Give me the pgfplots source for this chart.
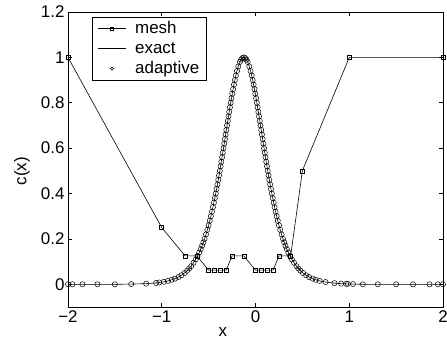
\documentclass[border=0pt]{standalone}
\usepackage{fontspec}
\setmainfont{Liberation Sans}
\usepackage{pgfplots}
\usepackage{pgfplotstable}
\pgfplotsset{compat=1.18}
\newcommand\fs{\fontsize{17}{20}\selectfont}
\pgfplotstableread{
x y
-2.0 0
-1.953 0
-1.846 0
-1.686 0
-1.5 0
-1.326 0.001
-1.166 0.003
-1.06 0.006
-1.0258 0.008
-0.977 0.011
-0.9339 0.015
-0.893 0.02
-0.8588 0.025
-0.822 0.032
-0.7898 0.04
-0.757 0.05
-0.7293 0.06
-0.707 0.07
-0.6864 0.08
-0.661 0.095
-0.6377 0.11
-0.6185 0.125
-0.6004 0.14
-0.5845 0.155
-0.5697 0.17
-0.556 0.185
-0.5436 0.2
-0.5282 0.22
-0.5137 0.24
-0.5004 0.26
-0.4877 0.28
-0.476 0.3
-0.4646 0.32
-0.4539 0.34
-0.4436 0.36
-0.4338 0.38
-0.4242 0.4
-0.415 0.42
-0.406 0.44
-0.3974 0.46
-0.3889 0.48
-0.3806 0.5
-0.3725 0.52
-0.3645 0.54
-0.3566 0.56
-0.3489 0.58
-0.3412 0.6
-0.3336 0.62
-0.326 0.64
-0.3185 0.66
-0.311 0.68
-0.3034 0.7
-0.2958 0.72
-0.2881 0.74
-0.2804 0.76
-0.2725 0.78
-0.2645 0.8
-0.2563 0.82
-0.2479 0.84
-0.2391 0.86
-0.2298 0.88
-0.22 0.9
-0.2093 0.92
-0.1975 0.94
-0.1838 0.96
-0.1663 0.98
-0.1541 0.99
-0.14 0.997
-0.125 1.0
-0.11 0.997
-0.0959 0.99
-0.0837 0.98
-0.0662 0.96
-0.0525 0.94
-0.0407 0.92
-0.03 0.9
-0.0202 0.88
-0.0109 0.86
-0.0021 0.84
0.0063 0.82
0.0145 0.8
0.0225 0.78
0.0304 0.76
0.0381 0.74
0.0458 0.72
0.0534 0.7
0.061 0.68
0.0685 0.66
0.076 0.64
0.0836 0.62
0.0912 0.6
0.0989 0.58
0.1066 0.56
0.1145 0.54
0.1225 0.52
0.1306 0.5
0.1389 0.48
0.1474 0.46
0.156 0.44
0.165 0.42
0.1742 0.4
0.1838 0.38
0.1936 0.36
0.2039 0.34
0.2146 0.32
0.226 0.3
0.2377 0.28
0.2504 0.26
0.2637 0.24
0.2782 0.22
0.2936 0.2
0.306 0.185
0.3197 0.17
0.3345 0.155
0.3504 0.14
0.3685 0.125
0.3877 0.11
0.411 0.095
0.4364 0.08
0.457 0.07
0.4793 0.06
0.507 0.05
0.5398 0.04
0.572 0.032
0.6088 0.025
0.643 0.02
0.6839 0.015
0.747 0.01
0.843 0.005
0.914 0.003
0.967 0.002
0.985 0.002
1.04 0.001
1.145 0
1.305 0
1.5 0
1.68 0
1.856 0
1.945 0
2.0 0
}\adaptive
\pgfplotsset{
  mylegend/.style={legend image code/.code={%
    \draw[mark repeat=2,mark phase=2,##1,mark size=1.6bp] plot coordinates {(0bp,0bp) (14.2bp,0bp) (28.4bp,0bp)};
    \path (0bp,0bp) (35bp,0bp);}},
}
\begin{document}
\begin{tikzpicture}
\begin{axis}[
  scale only axis, width=375bp, height=295bp,
  xmin=-2, xmax=2, ymin=-0.1, ymax=1.2,
  xtick={-2,-1,0,1,2}, xticklabels={−2,−1,0,1,2},
  ytick={0,0.2,0.4,0.6,0.8,1,1.2}, yticklabels={0,0.2,0.4,0.6,0.8,1,1.2},
  tick label style={font=\fs},
  label style={font=\fs},
  tick align=inside, major tick length=4bp,
  axis line style={line width=0.8bp},
  every tick/.style={black, line width=0.6bp},
  xlabel={x}, ylabel={c(x)},
  xlabel style={at={(axis description cs:0.413,-0.085)}, anchor=center},
  ylabel style={at={(axis description cs:-0.123,0.46)}, anchor=center},
  legend style={at={(axis description cs:0.064,0.984)}, anchor=north west,
    draw=black, line width=0.8bp, font=\fs, inner xsep=5bp, inner ysep=1.5bp,
    row sep=0bp, nodes={inner sep=2bp, text height=12.5bp, text depth=3.5bp}},
  legend cell align=left,
]
\addplot[black, line width=0.6bp, mark=square, mark size=2bp, mark options={solid, line width=0.5bp}, mylegend] coordinates {
(-2,1) (-1,0.25) (-0.75,0.125) (-0.625,0.125) (-0.5,0.0625) (-0.4375,0.0625)
(-0.375,0.0625) (-0.3125,0.0625) (-0.25,0.125) (-0.125,0.125) (0,0.0625)
(0.0625,0.0625) (0.125,0.0625) (0.1875,0.0625) (0.25,0.125) (0.375,0.125)
(0.5,0.5) (1,1) (2,1)};
\addlegendentry{mesh}
\addplot[black, line width=0.6bp, no marks, mylegend] table {\adaptive};
\addlegendentry{exact}
\addplot[black, only marks, mark=o, mark size=2.6bp, mark options={line width=0.5bp}, mylegend] table {\adaptive};
\addlegendentry{adaptive}
\end{axis}
\pgfresetboundingbox
\path ([shift={(-68bp,-32bp)}]current axis.south west) rectangle ([shift={(4bp,12bp)}]current axis.north east);
\end{tikzpicture}
\end{document}
